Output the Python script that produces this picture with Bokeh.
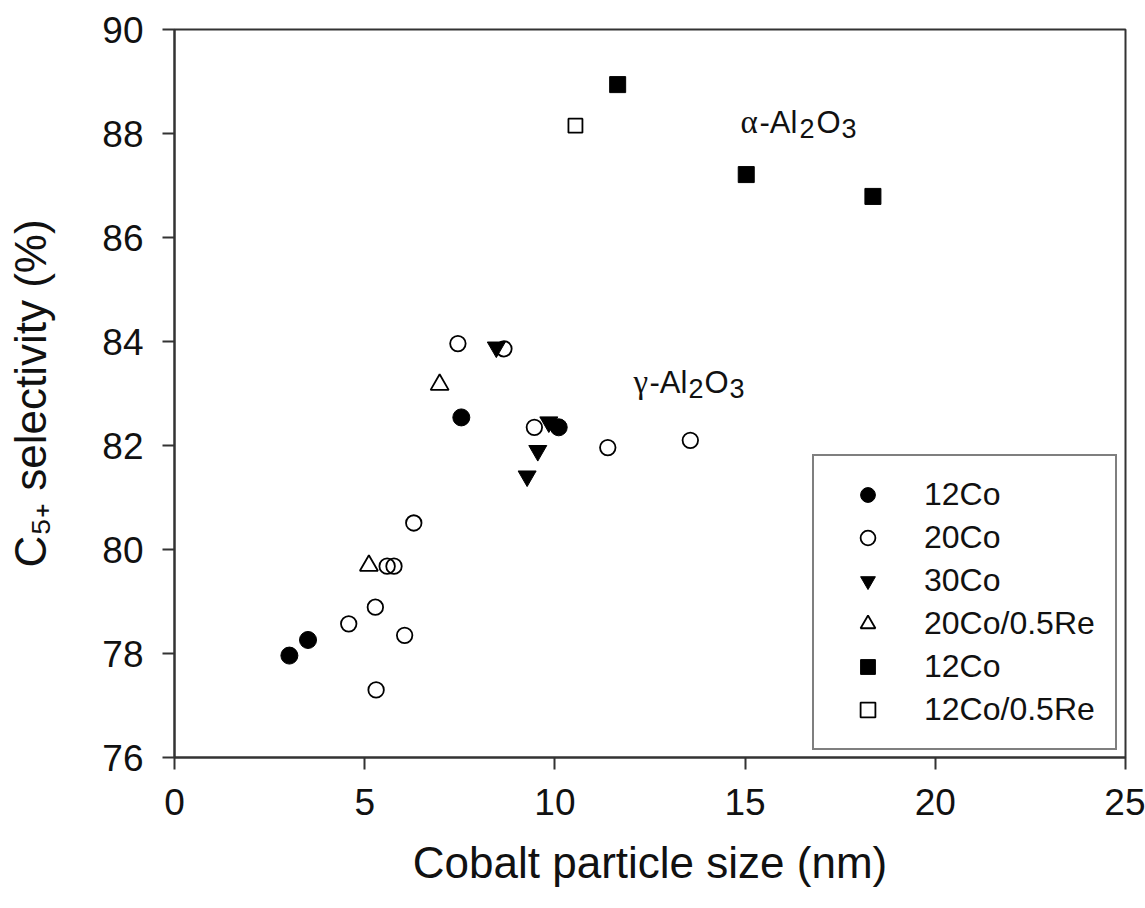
from bokeh.plotting import figure
from bokeh.models import Range1d, FixedTicker, Label, Legend, LegendItem
from bokeh.embed import file_html
from bokeh.resources import INLINE

# ---- data ----
# gamma-Al2O3 supported catalysts
co12_x = [3.02, 3.51, 7.54, 10.10]
co12_y = [77.96, 78.26, 82.54, 82.35]

co20_x = [7.45, 8.66, 9.46, 6.29, 5.59, 5.77, 5.28, 4.58, 6.05, 5.30, 11.39, 13.56]
co20_y = [83.96, 83.86, 82.35, 80.51, 79.68, 79.68, 78.89, 78.57, 78.35, 77.30, 81.96, 82.10]

co30_x = [8.46, 9.84, 9.55, 9.27]
co30_y = [83.89, 82.45, 81.90, 81.41]

co20re_x = [6.97, 5.11]
co20re_y = [83.17, 79.69]

# alpha-Al2O3 supported catalysts
aco12_x = [11.65, 15.03, 18.36]
aco12_y = [88.94, 87.21, 86.79]

aco12re_x = [10.54]
aco12re_y = [88.15]

legend_labels = ["12Co", "20Co", "30Co", "20Co/0.5Re", "12Co", "12Co/0.5Re"]
x_ticks = [0, 5, 10, 15, 20, 25]
y_ticks = [76, 78, 80, 82, 84, 86, 88, 90]

FONT = "Liberation Sans"

p = figure(
    frame_width=951, frame_height=728,
    min_border_left=174, min_border_right=20, min_border_top=29, min_border_bottom=151,
    x_range=Range1d(0, 25), y_range=Range1d(76, 90),
    output_backend="svg", toolbar_location=None,
    background_fill_color="white", border_fill_color="white",
)
p.grid.visible = False
p.outline_line_color = "#333333"
p.outline_line_width = 2

for ax in (p.xaxis[0], p.yaxis[0]):
    ax.axis_line_color = "#333333"
    ax.axis_line_width = 2
    ax.major_tick_line_color = "#333333"
    ax.major_tick_line_width = 2
    ax.major_tick_out = 12
    ax.major_tick_in = 0
    ax.minor_tick_out = 0
    ax.minor_tick_in = 0
    ax.major_label_text_font = FONT
    ax.major_label_text_font_size = "37px"
    ax.major_label_text_color = "#111111"
    ax.major_label_standoff = 19
    ax.axis_label_text_font = FONT
    ax.axis_label_text_font_size = "44px"
    ax.axis_label_text_font_style = "normal"
    ax.axis_label_text_color = "#111111"

p.xaxis.ticker = FixedTicker(ticks=x_ticks)
p.yaxis.ticker = FixedTicker(ticks=y_ticks)

p.xaxis.axis_label = "Cobalt particle size (nm)"
p.xaxis.axis_label_standoff = 20
p.yaxis.axis_label = "C\u2085\u208a selectivity (%)"
p.yaxis.axis_label_standoff = 44

# ---- markers ----
r20 = p.scatter(co20_x, co20_y, marker="circle", size=15.5, fill_color=None,
                line_color="black", line_width=1.8)
r30 = p.scatter(co30_x, co30_y, marker="inverted_triangle", size=18, fill_color="black",
                line_color="black")
r12 = p.scatter(co12_x, co12_y, marker="circle", size=17, fill_color="black",
                line_color="black")
r20re = p.scatter(co20re_x, co20re_y, marker="triangle", size=18, fill_color="white",
                  line_color="black", line_width=1.8)
ra12 = p.scatter(aco12_x, aco12_y, marker="square", size=16, fill_color="black",
                 line_color="black")
ra12re = p.scatter(aco12re_x, aco12re_y, marker="square", size=14, fill_color="white",
                   line_color="black", line_width=1.8)

legend = Legend(
    items=[LegendItem(label=lab, renderers=[r]) for lab, r in
           zip(legend_labels, [r12, r20, r30, r20re, ra12, ra12re])],
    location=(638, 7),
    margin=0, padding=20, spacing=6,
    glyph_width=67, glyph_height=37, label_height=37, label_standoff=23,
    label_text_font=FONT, label_text_font_size="32px", label_text_color="#111111",
    border_line_color="black", border_line_width=2,
    background_fill_color="white", background_fill_alpha=1.0,
)
p.add_layout(legend, "center")

# ---- support annotations (with lowered subscripts) ----
def support_label(x, y, greek, dash_off, offs):
    p.add_layout(Label(x=x, y=y, text=greek, text_font="Liberation Serif",
                       text_font_size="33px", text_color="#111111",
                       text_align="left", text_baseline="alphabetic"))
    parts = [("-Al", "31px", dash_off, 0), ("2", "27px", offs[0], -6.6),
             ("O", "31px", offs[1], 0), ("3", "27px", offs[2], -6.6)]
    for txt, fs, xo, yo in parts:
        p.add_layout(Label(x=x, y=y, x_offset=xo, y_offset=yo, text=txt,
                           text_font=FONT, text_font_size=fs, text_color="#111111",
                           text_align="left", text_baseline="alphabetic"))

support_label(14.88, 88.217, "α", 19, (59, 76, 101))
support_label(12.066, 83.217, "γ", 16, (55, 71, 96))

open("out.html", "w").write(file_html(p, INLINE))
